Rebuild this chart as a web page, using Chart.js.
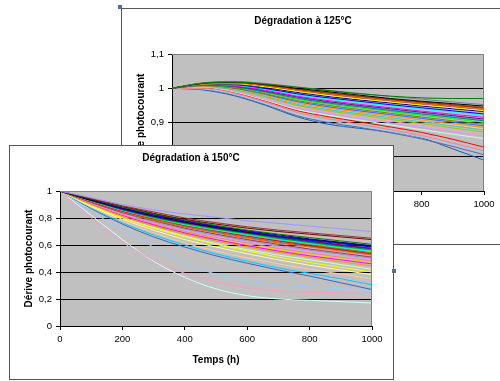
<!DOCTYPE html>
<html>
<head>
<meta charset="utf-8">
<script src="https://cdn.jsdelivr.net/npm/chart.js@4"></script>
<style>
html, body { margin: 0; padding: 0; background: #fff; width: 500px; height: 381px; overflow: hidden; }
body { position: relative; }
.frame { position: absolute; background: #fff; border: 1px solid #555; box-sizing: border-box; }
.frame div { position: relative; width: 100%; height: 100%; }
#backFrame { left: 121px; top: 8px; width: 385px; height: 237px; }
#frontFrame { left: 9px; top: 145px; width: 385px; height: 235px; }
.handle { position: absolute; width: 4px; height: 4px; background: #4f6f9f; }
</style>
</head>
<body>
<div class="frame" id="backFrame"><div><canvas id="chart125"></canvas></div></div>
<div class="frame" id="frontFrame"><div><canvas id="chart150"></canvas></div></div>
<div class="handle" style="left:118px;top:5px"></div>
<div class="handle" style="left:392px;top:269px"></div>
<script>
// hours of ageing, shared by both tests
const hours = [0, 100, 200, 300, 400, 500, 600, 700, 800, 900, 1000];

// 125 °C test, photocurrent drift per sample
const series125 = [
    [1, 1.015, 1.018, 1.012, 1.003, .993, .984, .977, .972, .970, .970],
    [1, 1.016, 1.020, 1.014, 1.004, .994, .985, .976, .968, .960, .952],
    [1, 1.015, 1.018, 1.011, 1.000, .990, .980, .970, .962, .955, .948],
    [1, 1.014, 1.017, 1.010, .998, .987, .977, .968, .960, .952, .944],
    [1, 1.013, 1.015, 1.007, .995, .984, .974, .965, .956, .948, .940],
    [1, 1.014, 1.016, 1.008, .996, .985, .975, .966, .957, .949, .942],
    [1, 1.012, 1.013, 1.004, .991, .979, .969, .960, .951, .943, .935],
    [1, 1.012, 1.012, 1.002, .988, .976, .966, .957, .948, .940, .932],
    [1, 1.011, 1.010, .999, .984, .972, .962, .952, .943, .934, .925],
    [1, 1.011, 1.009, .997, .981, .968, .958, .948, .939, .930, .921],
    [1, 1.010, 1.007, .994, .977, .964, .953, .943, .933, .924, .915],
    [1, 1.010, 1.006, .992, .975, .961, .950, .940, .930, .920, .910],
    [1, 1.009, 1.004, .989, .971, .957, .946, .935, .925, .915, .905],
    [1, 1.009, 1.003, .987, .968, .954, .943, .932, .921, .911, .900],
    [1, 1.008, 1.001, .984, .964, .950, .938, .927, .916, .905, .895],
    [1, 1.008, 1.000, .982, .961, .946, .934, .923, .912, .901, .890],
    [1, 1.007, .998, .979, .957, .942, .930, .918, .907, .896, .885],
    [1, 1.006, .996, .976, .953, .938, .926, .914, .902, .890, .878],
    [1, 1.006, .995, .974, .950, .934, .922, .909, .897, .884, .872],
    [1, 1.005, .993, .971, .946, .930, .917, .904, .891, .878, .866],
    [1, 1.004, .991, .968, .942, .926, .912, .899, .885, .872, .860],
    [1, 1.003, .989, .965, .938, .921, .907, .893, .879, .866, .853],
    [1, 1.003, .988, .963, .935, .917, .902, .887, .871, .851, .828],
    [1, 1.000, .985, .959, .930, .911, .895, .879, .862, .840, .818],
    [1, .998, .982, .955, .925, .906, .890, .874, .857, .836, .812],
    [1, .997, .980, .952, .920, .900, .886, .870, .852, .830, .806],
    [1, .995, .978, .950, .917, .895, .883, .872, .855, .823, .790],
    [1, 1.006, .997, .978, .955, .940, .928, .916, .904, .893, .882],
    [1, 1.010, 1.005, .990, .973, .959, .948, .937, .927, .917, .907],
    [1, 1.013, 1.014, 1.005, .993, .981, .971, .962, .953, .945, .937]
];
const colors125 = ["#008000", "#808080", "#000000", "#993300", "#ff6600", "#800000",
    "#ffff00", "#000080", "#0000ff", "#00ffff", "#ff00ff", "#800080", "#008080",
    "#00ff00", "#808000", "#3366ff", "#ff9900", "#33cccc", "#99cc00", "#ff99cc",
    "#cc99ff", "#ccffcc", "#ff0000", "#ff8080", "#99ccff", "#666699", "#0066cc",
    "#ffcc99", "#00ccff", "#993366"];

// 150 °C test, photocurrent drift per sample
const series150 = [
    [1, .950, .900, .860, .830, .805, .780, .760, .740, .720, .700],
    [1, .945, .890, .845, .800, .765, .735, .710, .690, .670, .650],
    [1, .940, .885, .835, .790, .755, .725, .700, .680, .660, .640],
    [1, .940, .880, .830, .785, .745, .710, .680, .655, .630, .605],
    [1, .935, .875, .825, .780, .740, .705, .675, .645, .620, .595],
    [1, .935, .870, .820, .775, .735, .700, .665, .635, .610, .585],
    [1, .930, .870, .815, .770, .730, .695, .665, .640, .615, .590],
    [1, .930, .865, .810, .765, .725, .690, .660, .630, .600, .575],
    [1, .930, .860, .805, .760, .720, .685, .650, .620, .590, .565],
    [1, .925, .860, .800, .755, .715, .680, .645, .615, .585, .560],
    [1, .925, .855, .800, .750, .710, .675, .640, .610, .580, .550],
    [1, .920, .850, .795, .745, .705, .665, .630, .595, .565, .535],
    [1, .920, .845, .785, .735, .690, .650, .615, .585, .555, .525],
    [1, .925, .855, .800, .750, .710, .675, .640, .605, .575, .545],
    [1, .925, .860, .805, .755, .715, .680, .650, .620, .595, .570],
    [1, .920, .850, .790, .740, .700, .665, .630, .600, .570, .545],
    [1, .915, .840, .780, .725, .680, .640, .605, .570, .540, .510],
    [1, .920, .845, .785, .735, .695, .655, .620, .590, .560, .530],
    [1, .910, .830, .765, .710, .665, .625, .590, .555, .525, .495],
    [1, .905, .825, .760, .700, .655, .615, .575, .540, .510, .480],
    [1, .905, .820, .750, .690, .640, .595, .555, .520, .490, .460],
    [1, .900, .810, .740, .680, .630, .585, .545, .510, .475, .445],
    [1, .905, .820, .755, .695, .645, .600, .565, .530, .500, .470],
    [1, .890, .800, .725, .660, .605, .555, .510, .470, .435, .400],
    [1, .895, .805, .730, .665, .610, .565, .525, .490, .455, .420],
    [1, .885, .790, .710, .640, .585, .535, .490, .450, .415, .380],
    [1, .880, .775, .690, .615, .555, .505, .460, .420, .385, .350],
    [1, .875, .765, .675, .600, .535, .480, .430, .390, .350, .305],
    [1, .870, .755, .660, .585, .520, .465, .415, .370, .320, .270],
    [1, .850, .710, .585, .460, .385, .335, .305, .290, .275, .265],
    [1, .800, .620, .490, .390, .325, .285, .260, .250, .245, .240],
    [1, .820, .640, .480, .360, .275, .225, .200, .190, .180, .170],
    [1, .915, .835, .770, .715, .670, .630, .595, .560, .530, .500],
    [1, .930, .865, .810, .765, .725, .690, .655, .625, .600, .575]
];
const colors150 = ["#9999ff", "#993333", "#800000", "#008000", "#000080", "#0000ff",
    "#000000", "#800080", "#008080", "#00ff00", "#00ffff", "#ff0000", "#ff6600",
    "#808000", "#333399", "#339966", "#993366", "#666699", "#cc99ff", "#ff8080",
    "#ff00ff", "#ff9900", "#ffcc00", "#ffff00", "#ccffcc", "#ffff99", "#ffcc99",
    "#00ccff", "#3366cc", "#99ccff", "#ff99cc", "#ccffff", "#969696", "#003366"];

const plotArea = {
    id: "plotArea",
    beforeDraw(chart) {
        const a = chart.chartArea, c = chart.ctx;
        c.save();
        c.fillStyle = "#c0c0c0";
        c.fillRect(a.left, a.top, a.right - a.left, a.bottom - a.top);
        c.restore();
    },
    afterDraw(chart) {
        const a = chart.chartArea, c = chart.ctx;
        c.save();
        c.strokeStyle = "#808080";
        c.lineWidth = 1;
        c.beginPath();
        c.moveTo(a.left, a.top + 0.5);
        c.lineTo(a.right - 0.5, a.top + 0.5);
        c.lineTo(a.right - 0.5, a.bottom);
        c.stroke();
        c.restore();
    }
};

const comma = v => (Math.round(v * 10) / 10).toString().replace(".", ",");

function makeChart(id, title, rows, colors, yMin, yMax, yStep) {
    const datasets = rows.map((row, i) => ({
        data: row.map((v, j) => ({ x: hours[j], y: v })),
        borderColor: colors[i],
        borderWidth: 1,
        pointRadius: 0,
        cubicInterpolationMode: "monotone",
        fill: false
    }));
    return new Chart(document.getElementById(id), {
        type: "line",
        data: { datasets },
        options: {
            responsive: true,
            maintainAspectRatio: false,
            animation: false,
            layout: { padding: { left: 0, right: 21, top: 0, bottom: 0 } },
            plugins: {
                legend: { display: false },
                tooltip: { enabled: false },
                title: {
                    display: true, text: title, color: "#000",
                    font: { family: "Liberation Sans, Arial", size: 10, weight: "bold" },
                    padding: { top: 6, bottom: 27 }
                }
            },
            scales: {
                x: {
                    type: "linear", min: 0, max: 1000,
                    ticks: { stepSize: 200, color: "#000", padding: 4, callback: v => String(v),
                        font: { family: "Liberation Sans, Arial", size: 9.5 } },
                    grid: { drawOnChartArea: false, drawTicks: true, tickLength: 4, color: "#000" },
                    border: { display: true, color: "#000" },
                    title: { display: true, text: "Temps (h)", color: "#000",
                        font: { family: "Liberation Sans, Arial", size: 10, weight: "bold" },
                        padding: { top: 0, bottom: 13 } },
                    afterFit(scale) { scale.height = 53; }
                },
                y: {
                    min: yMin, max: yMax,
                    ticks: { stepSize: yStep, color: "#000", padding: 4, callback: comma,
                        font: { family: "Liberation Sans, Arial", size: 9.5 } },
                    grid: {
                        drawTicks: true, tickLength: 4, tickColor: "#000",
                        color: ctx => Math.abs(ctx.tick.value - yMax) < 1e-6 ? "rgba(0,0,0,0)" : "#000"
                    },
                    border: { display: true, color: "#000" },
                    title: { display: true, text: "Dérive photocourant", color: "#000",
                        font: { family: "Liberation Sans, Arial", size: 10, weight: "bold" },
                        padding: { top: 13, bottom: 0 } },
                    afterFit(scale) { scale.width = 50; }
                }
            }
        },
        plugins: [plotArea]
    });
}

makeChart("chart125", "Dégradation à 125°C", series125, colors125, 0.7, 1.1, 0.1);
makeChart("chart150", "Dégradation à 150°C", series150, colors150, 0, 1, 0.2);
</script>
</body>
</html>
